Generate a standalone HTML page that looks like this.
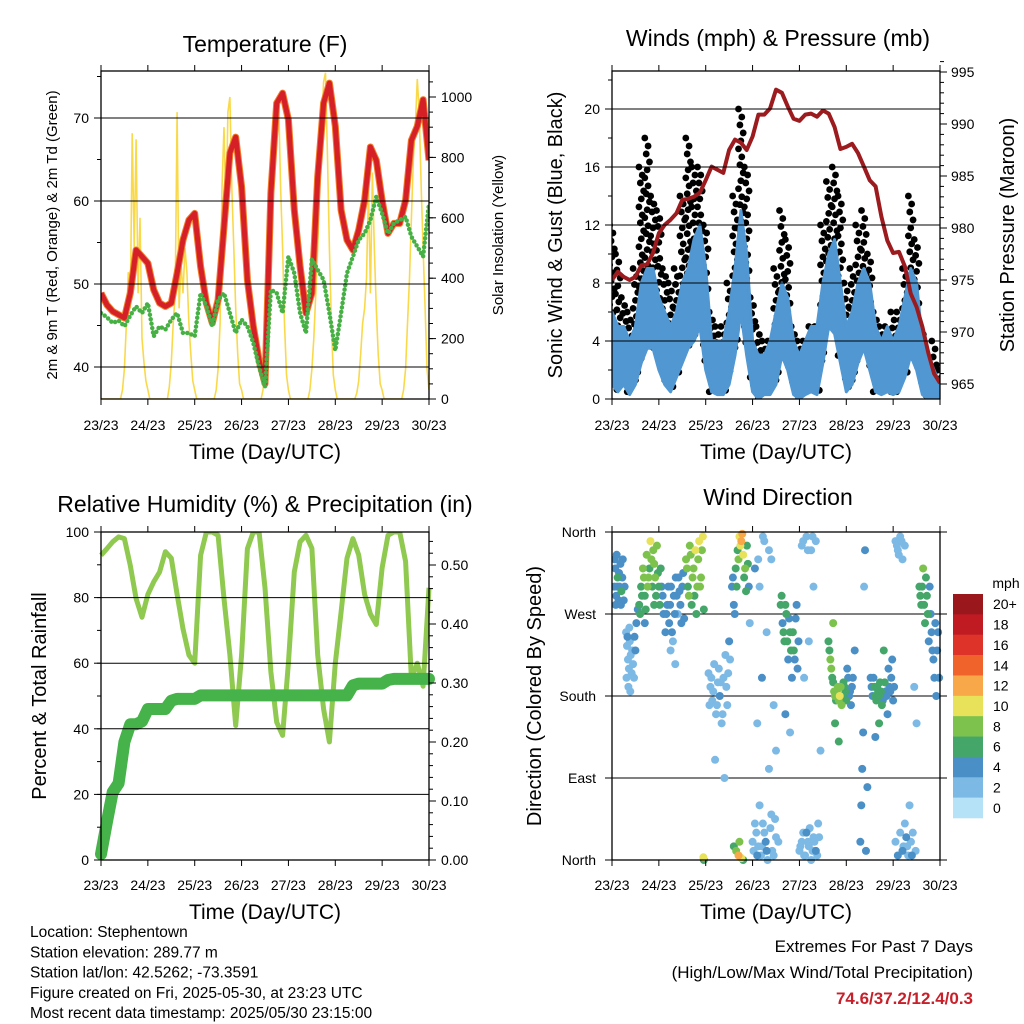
<!DOCTYPE html>
<html><head><meta charset="utf-8">
<style>
html,body{margin:0;padding:0;background:#fff;}
svg{display:block;font-family:"Liberation Sans",Arial,sans-serif;}
</style></head>
<body>
<svg id="fig" width="1024" height="1024" viewBox="0 0 1024 1024" xmlns="http://www.w3.org/2000/svg"></svg>
<script>
// ===== DATA (3-hourly, index i -> i*3 hours after 23/23) =====
const dayLabels = ["23/23","24/23","25/23","26/23","27/23","28/23","29/23","30/23"];
const tempRed = [48.9,47.5,46.7,46.3,45.9,48.9,54.1,53.3,52.5,49.3,47.7,47.3,47.7,51.3,55.3,57.7,58.5,52.1,47.7,45.3,48.1,56.9,65.8,67.7,61.7,50.5,44.9,40.8,38.0,61,71.8,73.0,69.8,58.9,52.1,46.5,48.9,62.9,71.8,74.2,69,58.9,55.3,54.1,56.5,60.1,66.5,64.9,60.1,56.1,57.3,57.3,60.1,67.3,69,72.2,64.9];
const dewGreen = [46.5,46,45.3,45.6,44.9,46.2,47.3,46.5,47.7,43.7,44.9,44.5,45.7,46.5,44.1,44.1,43.7,48.9,47.3,44.9,48.1,48.9,46.5,44.1,45.7,44.9,42.9,40,37.6,49.3,48.9,46.5,53.3,51.3,46.5,44.1,53,51.7,50.5,46.5,42,46.5,51.3,53.3,55.3,56.1,57.7,60.5,58.5,56.1,57.3,57.7,58.1,55.7,54.5,53.3,59.7];
// hourly solar insolation (W/m2), 169 values
const solar = [
0,0,0,0,0,0,0,0,0,0,0,30,100,250,420,300,880,500,860,350,600,200,120,60,
30,0,0,0,0,0,0,0,0,0,0,40,120,250,350,950,300,450,350,500,420,250,150,60,
30,0,0,0,0,0,0,0,0,0,0,30,100,250,700,900,600,950,1000,700,500,300,150,50,
30,0,0,0,0,0,0,0,0,0,0,30,100,250,400,600,800,950,900,980,700,500,250,80,
30,0,0,0,0,0,0,0,0,0,0,30,100,200,350,500,700,900,1050,1080,800,500,250,80,
30,0,0,0,0,0,0,0,0,0,0,20,60,150,250,300,400,700,350,750,500,300,150,50,
30,0,0,0,0,0,0,0,0,0,0,30,100,250,400,600,800,900,1060,950,700,500,300,100,
30];
const windMean = [3.9,2.8,3.4,2.1,3.4,5.9,7.5,7.2,5.4,3.9,3.2,4.6,6.4,7.7,9.1,10.5,6.2,2.8,2.1,2.3,3.9,7.2,11.4,8.4,2.8,1.4,1.8,2.3,3.9,6.8,5.4,2.1,1.4,2.1,3.2,2.8,6.2,9.1,9.1,5.9,3.2,4.1,5.9,7.7,5.9,3.4,2.8,3.0,2.3,2.8,5.1,7.2,5.9,2.3,1.4,1.0,0.5];
const windLow = [1,0.5,1,0.3,1,2.5,3.5,3.5,2,1,0.5,1.5,2.5,3.5,4,5,2,0.5,0.3,0.3,1,3,6,3,0.5,0,0.3,0.3,1,3,2,0.3,0,0.3,0.5,0.3,2.5,5,4.5,2.5,0.5,1,2.5,3.5,2,0.5,0.3,0.5,0.3,0.5,1.5,3,2,0.3,0,0,0];
const windHigh = [6,5,5,4,5,8,9,9,7,6,5,6,8,9,11,12,9,4,4,4,6,9,13,10,4,3,3,4,6,8,7,4,3,4,5,5,8,10,11,8,5,6,8,9,8,5,4,5,4,5,7,9,8,4,3,2,1];
const windGust = [12,10,7,6,9,16,18,14,13,9,8,9,14,18,16,16,12,6,5,5,8,14,20,16,7,5,4,4,9,13,11,5,4,4,5,5,12,15,16,14,8,9,12,13,10,6,5,5,6,6,9,14,11,5,3,4,2];
const pressure = [975,975.8,975.3,975,975.3,976.4,976.5,977.6,979.5,980.3,980.8,981.4,982.7,982.8,983,983.4,984.6,985.9,985.6,985.3,987.5,988.5,988.2,987.5,988.8,990.9,990.9,991.5,993.3,993,991.7,990.5,990.3,990.9,991,990.7,991.3,991,989.7,987.6,987.8,988.1,987.2,985.9,984.6,984,981.1,978.8,977.6,977.7,976.3,973.7,972.4,970.5,968,966,965.1];
const rhPct = [92.9,94.9,97,98.5,98,89.8,79.7,74,81,84.8,87.8,94,92,81,70.5,62.5,60,92.9,100,100,99,79.7,62.5,41,62.5,94.9,100,100,83,57.3,42,38,60,87.8,97,99,95,62.5,46,36,60,75.6,92,98,93,81,75,71.8,89,99,100,100,91,55.3,60,53,83];
const rainIn = [0.01,0.064,0.115,0.13,0.2,0.23,0.23,0.235,0.256,0.256,0.256,0.256,0.27,0.273,0.273,0.273,0.273,0.279,0.279,0.279,0.279,0.279,0.279,0.279,0.279,0.279,0.279,0.279,0.279,0.279,0.279,0.279,0.279,0.279,0.279,0.279,0.279,0.279,0.279,0.279,0.279,0.279,0.279,0.296,0.299,0.299,0.299,0.299,0.299,0.305,0.307,0.307,0.307,0.307,0.307,0.307,0.307];
// wind direction observations: time (days), direction (deg), speed (mph)
const dirTime = [0.05,0.07,0.09,0.1,0.12,0.14,0.16,0.18,0.2,0.22,0.25,0.27,
0.3,0.32,0.34,0.36,0.38,0.4,0.42,0.45,0.48,0.5,0.52,0.55,
0.58,0.62,0.66,0.7,0.74,0.78,0.82,0.86,0.9,0.94,0.98,1.02,1.06,1.1,0.84,0.72,0.96,
1.14,1.18,1.22,1.26,1.3,1.34,1.38,1.42,1.46,1.5,1.54,
1.58,1.62,1.66,1.7,1.74,1.78,1.82,1.86,1.9,1.94,1.96,1.8,
2.06,2.1,2.14,2.18,2.22,2.26,2.3,2.34,2.38,2.42,2.46,2.5,2.2,2.4,
2.56,2.6,2.64,2.68,2.72,2.74,2.76,2.78,2.8,2.82,2.86,2.9,2.94,
2.6,2.65,2.7,2.72,2.76,2.8,1.95,1.96,
3.0,3.05,3.1,3.15,3.2,3.25,3.3,3.35,3.4,3.45,3.5,3.1,3.2,3.3,3.4,3.15,3.25,3.05,
3.6,3.64,3.68,3.72,3.76,3.8,3.84,3.88,3.92,3.96,3.7,3.8,
4.0,4.05,4.1,4.15,4.2,4.25,4.3,4.35,4.4,4.05,4.15,4.25,4.35,4.1,4.2,4.45,4.3,
4.62,4.66,4.7,4.74,4.78,4.82,4.86,4.9,4.94,4.98,5.02,5.06,5.1,5.14,5.18,4.76,4.84,4.72,
5.3,5.32,5.34,5.36,5.38,5.4,5.42,5.45,
5.52,5.56,5.6,5.64,5.68,5.72,5.76,5.8,5.84,5.88,5.92,5.96,6.0,5.7,5.62,
6.05,6.1,6.15,6.2,6.25,6.05,6.1,6.15,6.2,6.25,6.3,6.35,6.4,6.45,6.5,
6.56,6.6,6.64,6.68,6.72,6.76,6.8,6.84,6.88,6.92,6.96,6.7,
0.06,0.08,0.11,0.15,0.19,0.23,0.6,0.64,0.68,0.76,0.8,0.88,0.92,1.0,1.04,1.08,0.7,0.9,
0.31,0.35,0.39,0.43,0.47,0.33,0.37,
1.16,1.2,1.24,1.28,1.32,1.36,1.4,1.44,1.48,1.52,1.25,1.35,
1.6,1.64,1.68,1.72,1.76,1.84,1.88,1.92,
2.08,2.12,2.16,2.24,2.28,2.32,2.36,2.44,2.48,2.52,
2.58,2.62,2.66,2.7,2.84,2.88,2.92,
3.02,3.08,3.12,3.18,3.22,3.28,3.32,3.38,3.42,3.48,3.55,3.12,3.22,3.35,3.45,3.5,
3.62,3.66,3.7,3.74,3.78,3.82,3.86,3.9,3.94,3.98,
4.02,4.08,4.12,4.18,4.22,4.28,4.32,4.38,4.42,4.08,4.18,4.28,
4.64,4.68,4.72,4.76,4.8,4.84,4.88,4.92,4.96,5.0,5.04,5.08,5.12,
5.54,5.58,5.62,5.66,5.7,5.74,5.78,5.82,5.86,5.9,5.94,5.98,6.02,
6.08,6.12,6.18,6.22,6.28,6.32,6.38,6.42,6.48,
6.58,6.62,6.66,6.74,6.78,6.82,6.86,6.9,6.94,6.98];
const dirDeg = [300,320,290,335,310,285,300,325,295,310,285,300,
250,235,220,210,240,225,205,215,245,230,260,275,
280,300,320,290,335,310,350,300,325,290,315,280,300,270,330,275,345,
250,280,260,300,240,270,290,310,280,300,265,
330,300,345,280,320,340,300,350,310,355,275,270,
205,190,175,215,160,195,180,150,200,225,170,240,110,90,
300,280,320,340,355,345,350,358,335,310,295,325,260,
15,10,5,20,2,0,3,0,
20,40,5,60,15,30,10,100,50,5,25,150,200,250,330,300,350,320,
280,260,240,270,220,250,200,230,265,210,160,140,
10,20,5,30,15,0,25,10,40,345,355,340,350,200,240,120,300,
240,220,200,185,175,190,180,170,195,185,210,180,170,200,230,150,130,260,
20,60,100,140,300,340,10,80,
200,180,190,175,185,195,170,230,185,160,190,200,175,150,135,
350,340,355,330,345,20,5,30,10,40,15,60,5,190,150,
300,280,320,260,290,240,270,230,200,180,250,310,
330,280,300,315,280,330,270,290,310,300,320,340,310,300,320,290,260,280,
200,190,185,230,200,245,255,
270,300,280,250,290,310,270,295,260,315,230,215,
320,290,335,310,290,330,300,340,
170,200,185,170,210,195,160,190,205,220,
310,270,300,330,320,345,300,
10,30,15,5,40,20,0,35,10,45,20,330,355,340,170,120,
290,250,280,240,265,230,250,220,280,240,
15,30,5,20,35,10,20,5,25,350,340,355,
230,210,195,180,185,175,190,180,190,175,200,185,190,
190,200,180,190,180,185,175,195,180,210,185,220,190,
345,335,350,15,25,5,20,30,10,
290,300,280,270,300,250,220,260,230,200];
const dirSpeed = [4,3,4,4,5,3,4,4,5,4,4,3,
2,2,1,2,2,1,2,2,3,4,4,4,
6,5,7,6,7,8,10,6,7,5,6,5,4,4,8,5,7,
3,4,3,4,2,3,4,4,3,4,4,
7,6,8,6,8,9,7,10,8,9,5,6,
2,1,1,2,2,2,3,1,2,2,1,3,1,1,
4,4,5,6,10,10,11,12,9,6,6,5,2,
6,8,12,7,9,6,10,6,
2,1,3,2,1,2,3,1,2,1,2,2,3,1,2,2,1,3,
5,4,6,5,4,6,4,5,4,3,3,2,
2,1,2,3,2,1,2,3,1,1,2,1,2,1,1,2,1,
5,7,6,7,6,8,9,7,6,5,4,4,3,4,3,6,6,7,
4,3,4,3,2,3,4,3,
3,4,5,6,5,6,5,6,4,3,4,3,4,6,4,
1,2,2,1,2,2,3,1,4,2,1,2,3,2,1,
6,5,7,6,5,4,4,3,3,4,3,6,
3,4,3,4,4,3,5,6,7,7,6,8,7,6,5,4,4,5,
2,1,2,2,1,3,2,
4,3,4,3,4,3,2,4,3,4,2,2,
8,7,8,7,6,8,7,8,
2,1,2,1,2,1,2,1,2,2,
4,4,5,7,7,5,3,
2,1,2,1,2,3,2,1,2,1,2,2,1,2,1,2,
5,5,6,5,4,5,5,4,3,4,
2,2,1,2,2,1,2,2,1,2,1,2,
6,7,6,8,7,8,7,6,5,5,4,4,3,
4,4,5,6,5,6,4,5,4,3,4,3,3,
2,1,2,2,3,2,1,2,1,
6,6,5,5,4,4,3,4,3,3];
const speedBins = ["0","2","4","6","8","10","12","14","16","18","20+"];
const speedColors = ["#b6e2f8","#7db9e5","#4a8fc6","#45a66a","#7cc24c","#e7e25a","#f8a848","#f0632a","#dd3328","#c01b22","#9a171c"];

// ===== helpers =====
const NS="http://www.w3.org/2000/svg";
const svg=document.getElementById('fig');
function mk(tag,attrs,parent){const e=document.createElementNS(NS,tag);for(const k in attrs)e.setAttribute(k,attrs[k]);(parent||svg).appendChild(e);return e;}
function txt(s,x,y,size,anchor,parent,extra){const e=mk('text',Object.assign({x:x,y:y,'font-size':size,'text-anchor':anchor||'middle',fill:'#000'},extra||{}),parent);e.textContent=s;return e;}
const W=328/7;
function poly(pts){return pts.map(p=>p[0].toFixed(1)+','+p[1].toFixed(1)).join(' ');}

function frame(name){
  const g=mk('g',{});
  
  
  return g;
}
function xAxis(g,x0,y0,y1,labelY,titleY){
  for(let d=0;d<=7;d++){
    const x=x0+d*W;
    const t1=mk('line',{x1:x,x2:x,y1:y1,y2:y1+6,stroke:'#000','stroke-width':1},g);
    
    
    mk('line',{x1:x,x2:x,y1:y0,y2:y0-6,stroke:'#000','stroke-width':1},g);
    const l=txt(dayLabels[d],x,labelY,14,'middle',g);
    
    
  }
  const t=txt('Time (Day/UTC)',x0+164,titleY,21,'middle',g);
  
  
}
function border(g,x0,y0,x1,y1){
  const r=mk('rect',{x:x0,y:y0,width:x1-x0,height:y1-y0,fill:'none',stroke:'#000','stroke-width':1.3},g);
  
  
}
function yTicks(g,side,x,yFn,vals,minor,fmt,grid,x0,x1,labelOffset){
  const dir=side==='left'?-1:1;
  minor.forEach(v=>{mk('line',{x1:x,x2:x+dir*4,y1:yFn(v),y2:yFn(v),stroke:'#000','stroke-width':1},g);});
  vals.forEach(v=>{
    const y=yFn(v);
    mk('line',{x1:x,x2:x+dir*7,y1:y,y2:y,stroke:'#000','stroke-width':1},g);
    if(grid){const gl=mk('line',{x1:x0,x2:x1,y1:y,y2:y,stroke:'#000','stroke-width':1},g);
      
      }
    const l=txt(fmt(v),x+dir*labelOffset,y+5,14,side==='left'?'end':'start',g);
    
    
  });
}
function range(a,b,s){const r=[];for(let v=a;v<=b+1e-9;v+=s)r.push(Math.round(v*1000)/1000);return r;}
function rotTitle(g,s,x,y,size,name){
  const e=txt(s,x,y,size,'middle',g,{transform:'rotate(-90 '+x+' '+y+')'});
  
  
}

// ===== Panel 1: Temperature =====
(function(){
  const X0=101,X1=429,Y0=71,Y1=399;
  const g=frame('temperature-panel');
  const xT=d=>X0+d*W, yT=v=>367-(v-40)*8.3, yS=v=>Y1-v*0.302;
  const ti=txt('Temperature (F)',265,52,23,'middle',g);
  
  
  const clip=mk('clipPath',{id:'c1'},g);mk('rect',{x:X0,y:Y0,width:X1-X0,height:Y1-Y0},clip);
  const pg=mk('g',{'clip-path':'url(#c1)'},g);
  yTicks(g,'left',X0,yT,[40,50,60,70],range(40,75,5),v=>String(v),true,X0,X1,12);
  yTicks(g,'right',X1,yS,[0,200,400,600,800,1000],range(0,1050,50),v=>String(v),false,X0,X1,12);
  const sp=solar.map((v,i)=>[xT(i/24),yS(v)]);
  const sl=mk('polyline',{points:poly(sp),fill:'none',stroke:'#f9d94a','stroke-width':1.6},pg);
  
  
  const tp=tempRed.map((v,i)=>[xT(i*3/24),yT(v)]);
  const ol=mk('polyline',{points:poly(tp),fill:'none',stroke:'#f07a2a','stroke-width':7,'stroke-linejoin':'round'},pg);
  
  
  const rl=mk('polyline',{points:poly(tp),fill:'none',stroke:'#d42026','stroke-width':5,'stroke-linejoin':'round'},pg);
  
  
  const dp=dewGreen.map((v,i)=>[xT(i*3/24),yT(v)]);
  const dl=mk('polyline',{points:poly(dp),fill:'none',stroke:'#47b045','stroke-width':4.5,'stroke-linecap':'round','stroke-dasharray':'0 4.5','stroke-linejoin':'round'},pg);
  
  
  border(g,X0,Y0,X1,Y1);
  xAxis(g,X0,Y0,Y1,430,459);
  rotTitle(g,'2m & 9m T (Red, Orange) & 2m Td (Green)',57,235,15,'temp-y-axis-title');
  rotTitle(g,'Solar Insolation (Yellow)',503,235,15,'solar-y-axis-title');
})();

// ===== Panel 2: Winds & Pressure =====
(function(){
  const X0=612,X1=940,Y0=71,Y1=399;
  const g=frame('winds-panel');
  const xW=d=>X0+d*W, yV=v=>Y1-v*14.5, yP=p=>384-(p-965)*10.4;
  const ti=txt('Winds (mph) & Pressure (mb)',778,46,23,'middle',g);
  
  
  const clip=mk('clipPath',{id:'c2'},g);mk('rect',{x:X0,y:Y0,width:X1-X0,height:Y1-Y0},clip);
  const pg=mk('g',{'clip-path':'url(#c2)'},g);
  yTicks(g,'left',X0,yV,[0,4,8,12,16,20],range(0,22,2),v=>String(v),true,X0,X1,12);
  yTicks(g,'right',X1,yP,[965,970,975,980,985,990,995],range(965,996,1),v=>String(v),false,X0,X1,11);
  const offs=[-0.05,0.02,-0.02,0.05,0];
  windGust.forEach((gv,i)=>{
    const wv=windLow[i];
    let k=0;
    for(let v=gv;v>=wv;v-=0.55){
      const c=mk('circle',{cx:xW(i*3/24+offs[k%5]),cy:yV(v),r:3.4,fill:'#000'},pg);
      
      
      k++;
    }
  });
  const top=windHigh.map((v,i)=>[xW(i*3/24),yV(v)]);
  const bot=windLow.map((v,i)=>[xW(i*3/24),yV(v)]).reverse();
  const band=mk('polygon',{points:poly(top.concat(bot)),fill:'#5197d2',stroke:'#5197d2','stroke-width':3,'stroke-linejoin':'round'},pg);
  
  
  const pp=pressure.map((v,i)=>[xW(i*3/24),yP(v)]);
  const pl=mk('polyline',{points:poly(pp),fill:'none',stroke:'#9b1b1e','stroke-width':4,'stroke-linejoin':'round'},pg);
  
  
  border(g,X0,Y0,X1,Y1);
  xAxis(g,X0,Y0,Y1,430,459);
  rotTitle(g,'Sonic Wind & Gust (Blue, Black)',562,235,20,'wind-y-axis-title');
  rotTitle(g,'Station Pressure (Maroon)',1014,235,20,'pressure-y-axis-title');
})();

// ===== Panel 3: RH & Precip =====
(function(){
  const X0=101,X1=429,Y0=532,Y1=860;
  const g=frame('humidity-panel');
  const xR=d=>X0+d*W, yR=v=>Y1-v*3.28, yP=v=>Y1-v*590;
  const ti=txt('Relative Humidity (%) & Precipitation (in)',265,512,23,'middle',g);
  
  
  const clip=mk('clipPath',{id:'c3'},g);mk('rect',{x:X0-8,y:Y0,width:X1-X0+16,height:Y1-Y0+8},clip);
  const pg=mk('g',{'clip-path':'url(#c3)'},g);
  yTicks(g,'left',X0,yR,[0,20,40,60,80,100],range(0,100,10),v=>String(v),true,X0,X1,12);
  yTicks(g,'right',X1,yP,[0,0.1,0.2,0.3,0.4,0.5],range(0,0.54,0.02),v=>v.toFixed(2),false,X0,X1,12);
  const rp=rhPct.map((v,i)=>[xR(i*3/24),yR(v)]);
  const rl=mk('polyline',{points:poly(rp),fill:'none',stroke:'#8fc94f','stroke-width':5,'stroke-linejoin':'round'},pg);
  
  
  const pp=rainIn.map((v,i)=>[xR(i*3/24),yP(v)]);
  const pl=mk('polyline',{points:poly(pp),fill:'none',stroke:'#46b34a','stroke-width':12,'stroke-linejoin':'round','stroke-linecap':'round'},pg);
  
  
  border(g,X0,Y0,X1,Y1);
  xAxis(g,X0,Y0,Y1,890,919);
  rotTitle(g,'Percent & Total Rainfall',46,696,20,'humidity-y-axis-title');
})();

// ===== Panel 4: Wind direction =====
(function(){
  const X0=612,X1=940,Y0=532,Y1=860;
  const g=frame('wind-direction-panel');
  const xD=d=>X0+d*W, yD=v=>Y1-v*328/360;
  const ti=txt('Wind Direction',778,505,23,'middle',g);
  
  
  const names=['North','East','South','West','North'];
  [0,90,180,270,360].forEach((v,i)=>{
    const y=yD(v);
    mk('line',{x1:X0,x2:X0-7,y1:y,y2:y,stroke:'#000'},g);
    mk('line',{x1:X1,x2:X1+7,y1:y,y2:y,stroke:'#000'},g);
    if(v>0&&v<360){const gl=mk('line',{x1:X0,x2:X1,y1:y,y2:y,stroke:'#000','stroke-width':1},g);
      
      }
    const l=txt(names[i],X0-16,y+5,14,'end',g);
    
    
  });
  const clip=mk('clipPath',{id:'c4'},g);mk('rect',{x:X0,y:Y0-4,width:X1-X0+4,height:Y1-Y0+8},clip);
  const pg=mk('g',{'clip-path':'url(#c4)'},g);
  const order=dirTime.map((t,i)=>i).sort((a,b)=>dirSpeed[a]-dirSpeed[b]);
  order.forEach(i=>{
    const s=dirSpeed[i];
    const bin=Math.min(10,Math.round(s/2));
    const c=mk('circle',{cx:xD(dirTime[i]),cy:yD(dirDeg[i]),r:4,fill:speedColors[bin]},pg);
    
    
  });
  border(g,X0,Y0,X1,Y1);
  xAxis(g,X0,Y0,Y1,890,919);
  rotTitle(g,'Direction (Colored By Speed)',541,696,20,'direction-y-axis-title');
  const cb=mk('g',{});
  
  
  const u=txt('mph',1006,588,14,'middle',cb);
  
  
  const bh=(818-594)/11;
  for(let k=0;k<11;k++){
    const idx=10-k, y=594+k*bh;
    const r=mk('rect',{x:953,y:y,width:30,height:bh+0.3,fill:speedColors[idx]},cb);
    
    
    const l=txt(speedBins[idx],993,y+bh/2+5,14,'start',cb);
    
    
  }
})();

// ===== Footer text =====
(function(){
  const lines=['Location: Stephentown','Station elevation: 289.77 m','Station lat/lon: 42.5262; -73.3591','Figure created on Fri, 2025-05-30, at 23:23 UTC','Most recent data timestamp: 2025/05/30 23:15:00'];
  lines.forEach((s,i)=>{
    const e=txt(s,30,937+i*20.3,15.5,'start');
    
    
  });
  const a=txt('Extremes For Past 7 Days',973,952,17,'end');
  
  
  const b=txt('(High/Low/Max Wind/Total Precipitation)',973,978,17,'end');
  
  
  const c=txt('74.6/37.2/12.4/0.3',973,1004,17,'end',null,{fill:'#c8202a','font-weight':'bold'});
  
  
})();
</script>
</body></html>
